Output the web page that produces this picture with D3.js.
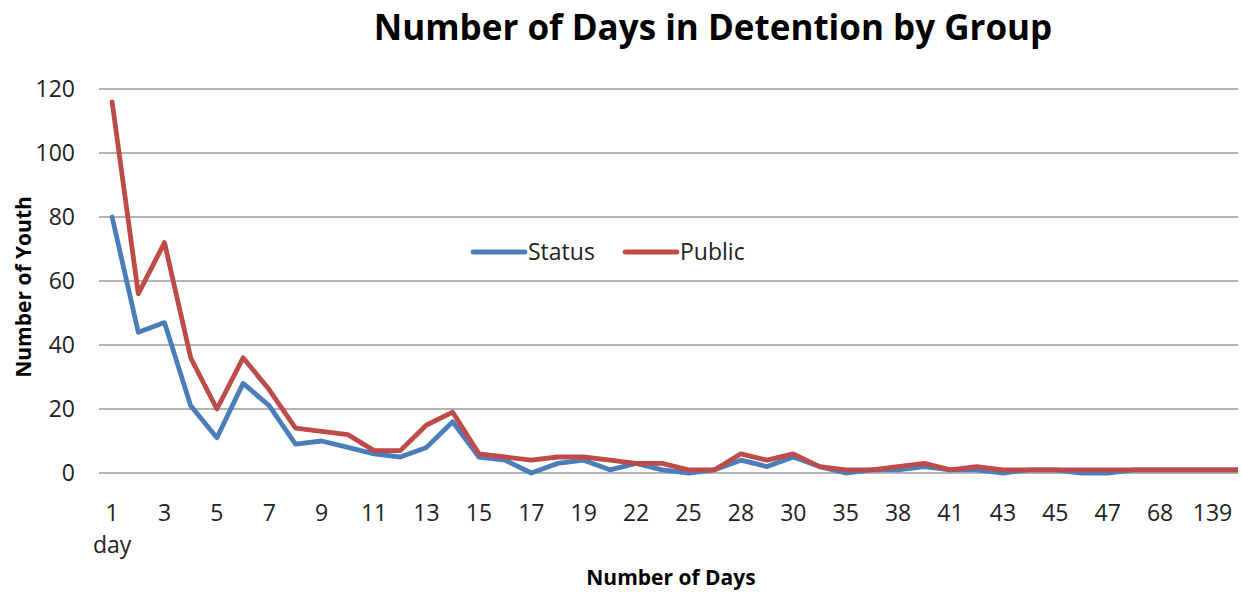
<!DOCTYPE html>
<html>
<head>
<meta charset="utf-8">
<script src="https://cdn.jsdelivr.net/npm/d3@7"></script>
<style>
  html, body { margin: 0; padding: 0; background: #fff; }
  svg { display: block; font-family: "Open Sans", "Noto Sans", sans-serif; }
</style>
</head>
<body>
<svg id="chart" width="1242" height="592"></svg>
<script>
// Days spent in detention (category axis); only every other one is labelled
const days = ["1 day","2","3","4","5","6","7","8","9","10","11","12","13","14","15","16","17","18","19","20",
              "22","24","25","27","28","29","30","33","35","36","38","40","41","42","43","44","45","46","47","60",
              "68","90","139","150"];
const statusYouth = [80,44,47,21,11,28,21,9,10,8,6,5,8,16,5,4,0,3,4,1,
                     3,1,0,1,4,2,5,2,0,1,1,2,1,1,0,1,1,0,0,1,
                     1,1,1,1];
const publicYouth = [116,56,72,36,20,36,26,14,13,12,7,7,15,19,6,5,4,5,5,4,
                     3,3,1,1,6,4,6,2,1,1,2,3,1,2,1,1,1,1,1,1,
                     1,1,1,1];
const yTicks = [0,20,40,60,80,100,120];
const seriesNames = ["Status","Public"];
const seriesColors = ["#4a7ebb","#be4b48"];

const svg = d3.select("#chart");
const plot = { left: 99, top: 89, bottom: 473, right: 1238 };
const step = 26.2;
const labelSize = 23;

const x = d3.scaleBand()
  .domain(days)
  .range([plot.left, plot.left + step * days.length])
  .paddingInner(0).paddingOuter(0);
const y = d3.scaleLinear().domain([0, 120]).range([plot.bottom, plot.top]);
const cx = d => x(d) + x.bandwidth() / 2;

svg.append("defs").append("clipPath").attr("id", "plotClip")
  .append("rect")
  .attr("x", plot.left).attr("y", 0)
  .attr("width", plot.right - plot.left).attr("height", 592);

// value labels on the left
const yAxis = d3.axisLeft(y).tickValues(yTicks).tickSize(0).tickPadding(24);
const yg = svg.append("g").attr("transform", `translate(${plot.left},0)`).call(yAxis);
yg.select(".domain").remove();
yg.selectAll("text")
  .attr("font-size", labelSize).attr("fill", "#222")
  .attr("font-family", "Open Sans, sans-serif");

// horizontal gridlines
svg.append("g").selectAll("line").data(yTicks).join("line")
  .attr("x1", plot.left).attr("x2", plot.right)
  .attr("y1", d => y(d)).attr("y2", d => y(d))
  .attr("stroke", "#9a9a9a").attr("stroke-width", 1.6);

// category labels
const xAxis = d3.axisBottom(x)
  .tickValues(days.filter((d, i) => i % 2 === 0 && i < 43))
  .tickSize(0).tickPadding(0)
  .tickFormat(d => d.split(" ")[0]);
const xg = svg.append("g").attr("transform", `translate(0,${plot.bottom})`).call(xAxis);
xg.select(".domain").remove();
xg.selectAll("text")
  .attr("font-size", labelSize).attr("fill", "#222").attr("dy", 0).attr("y", 48)
  .attr("font-family", "Open Sans, sans-serif");
xg.append("text")
  .attr("x", cx(days[0])).attr("y", 80)
  .attr("text-anchor", "middle").attr("font-size", labelSize).attr("fill", "#222")
  .attr("font-family", "Open Sans, sans-serif")
  .text(days[0].split(" ")[1]);

// series lines
const line = d3.line().x((d, i) => cx(days[i])).y(d => y(d));
const g = svg.append("g").attr("clip-path", "url(#plotClip)");
[statusYouth, publicYouth].forEach((vals, k) => {
  g.append("path").datum(vals)
    .attr("d", line)
    .attr("fill", "none")
    .attr("stroke", seriesColors[k])
    .attr("stroke-width", 4.8)
    .attr("stroke-linejoin", "round")
    .attr("stroke-linecap", "round");
});

// legend
const legendX = [473, 625];
seriesNames.forEach((name, k) => {
  svg.append("line")
    .attr("x1", legendX[k]).attr("x2", legendX[k] + 52)
    .attr("y1", 252).attr("y2", 252)
    .attr("stroke", seriesColors[k]).attr("stroke-width", 4.8)
    .attr("stroke-linecap", "round");
  svg.append("text")
    .attr("x", legendX[k] + 55).attr("y", 260)
    .attr("font-size", labelSize).attr("fill", "#222")
    .text(name);
});

// titles
svg.append("text")
  .attr("x", 713).attr("y", 40)
  .attr("text-anchor", "middle")
  .attr("font-size", 35).attr("font-weight", "bold").attr("fill", "#000")
  .text("Number of Days in Detention by Group");

svg.append("text")
  .attr("x", 671).attr("y", 585)
  .attr("text-anchor", "middle")
  .attr("font-size", 21).attr("font-weight", "bold").attr("fill", "#000")
  .text("Number of Days");

svg.append("text")
  .attr("transform", "translate(31,287) rotate(-90)")
  .attr("text-anchor", "middle")
  .attr("font-size", 21).attr("font-weight", "bold").attr("fill", "#000")
  .text("Number of Youth");
</script>
</body>
</html>
